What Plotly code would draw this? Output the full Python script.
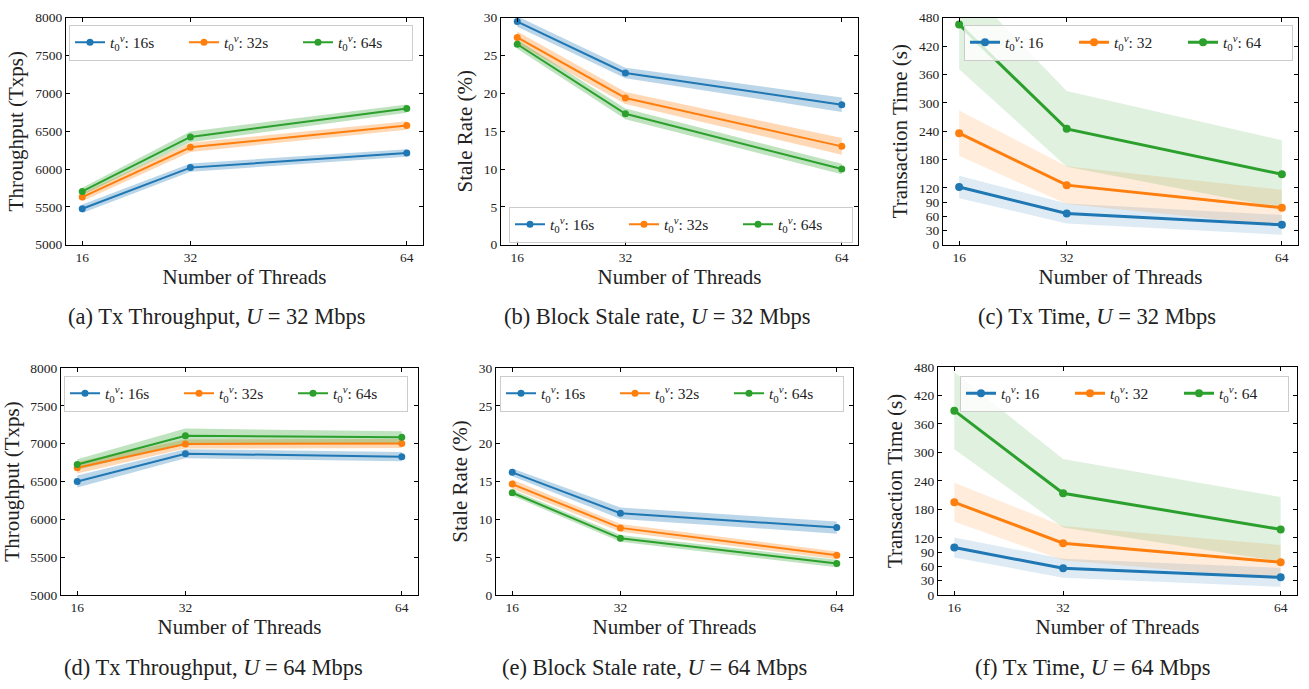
import plotly.graph_objects as go

W, H = 1309, 689

threads = [16, 32, 64]
series_names = ["16", "32", "64"]
colors = ["#1f77b4", "#ff7f0e", "#2ca02c"]
fill_rgb = ["31,119,180", "255,127,14", "44,160,44"]

# (a) Throughput, U = 32 Mbps
thr32_mean = [[5475, 6019, 6213], [5630, 6287, 6576], [5704, 6425, 6800]]
thr32_err = [[55, 55, 50], [55, 60, 55], [50, 70, 55]]
# (b) Stale rate, U = 32 Mbps
stale32_mean = [[29.5, 22.7, 18.5], [27.4, 19.4, 13.0], [26.5, 17.3, 10.0]]
stale32_err = [[0.7, 0.7, 0.95], [0.8, 0.8, 1.1], [0.6, 0.7, 0.7]]
# (c) Transaction time, U = 32 Mbps
time32_mean = [[122, 66, 42], [236, 126, 78], [466, 245, 149]]
time32_err = [[24, 21, 21], [48, 40, 38], [95, 80, 72]]
# (d) Throughput, U = 64 Mbps
thr64_mean = [[6500, 6867, 6828], [6681, 6995, 7001], [6724, 7104, 7083]]
thr64_err = [[80, 60, 60], [75, 60, 60], [70, 95, 80]]
# (e) Stale rate, U = 64 Mbps
stale64_mean = [[16.2, 10.8, 8.9], [14.65, 8.86, 5.23], [13.5, 7.48, 4.15]]
stale64_err = [[0.5, 0.75, 0.8], [0.6, 0.5, 0.5], [0.4, 0.45, 0.5]]
# (f) Transaction time, U = 64 Mbps
time64_mean = [[100, 56, 37], [195, 109, 69], [388, 214, 138]]
time64_err = [[21, 20, 20], [41, 36, 36], [81, 72, 68]]

time_ticks = [0, 30, 60, 90, 120, 180, 240, 300, 360, 420, 480]

captions = [
    "(a) Tx Throughput, <i>U</i> = 32 Mbps",
    "(b) Block Stale rate, <i>U</i> = 32 Mbps",
    "(c) Tx Time, <i>U</i> = 32 Mbps",
    "(d) Tx Throughput, <i>U</i> = 64 Mbps",
    "(e) Block Stale rate, <i>U</i> = 64 Mbps",
    "(f) Tx Time, <i>U</i> = 64 Mbps",
]

FONT = "Liberation Serif, Times New Roman, serif"

# panel pixel boxes: (left, right, top, bottom)
panels = [
    dict(box=(66, 423, 11, 243), mean=thr32_mean, err=thr32_err, yr=[5000, 8000], dtick=500,
         ytitle="Throughput (Txps)", suffix="s", alpha=0.3, lw=2, ms=7,
         leg=(69, 414, 18, 46), ew=69, cap=(216, 316)),
    dict(box=(501, 858, 11, 243), mean=stale32_mean, err=stale32_err, yr=[0, 30], dtick=5,
         ytitle="Stale Rate (%)", suffix="s", alpha=0.3, lw=2, ms=7,
         leg=(509, 854, 204, 234), ew=69, cap=(657, 316)),
    dict(box=(943, 1298, 11, 243), mean=time32_mean, err=time32_err, yr=[0, 480], tickvals=time_ticks,
         ytitle="Transaction Time (s)", suffix="", alpha=0.15, lw=3, ms=8,
         leg=(964, 1291, 18, 46), ew=64, cap=(1097, 316)),
    dict(box=(61, 418, 369, 601), mean=thr64_mean, err=thr64_err, yr=[5000, 8000], dtick=500,
         ytitle="Throughput (Txps)", suffix="s", alpha=0.3, lw=2, ms=7,
         leg=(64, 410, 377, 404), ew=69, cap=(213, 675)),
    dict(box=(496, 853, 369, 601), mean=stale64_mean, err=stale64_err, yr=[0, 30], dtick=5,
         ytitle="Stale Rate (%)", suffix="s", alpha=0.3, lw=2, ms=7,
         leg=(500, 845, 377, 404), ew=69, cap=(654, 675)),
    dict(box=(938, 1297, 368, 601), mean=time64_mean, err=time64_err, yr=[0, 480], tickvals=time_ticks,
         ytitle="Transaction Time (s)", suffix="", alpha=0.15, lw=3, ms=8,
         leg=(960, 1287, 377, 404), ew=64, cap=(1092, 675)),
]

fig = go.Figure()
layout = dict(
    width=W, height=H, margin=dict(l=0, r=0, t=0, b=0),
    paper_bgcolor="white", plot_bgcolor="white",
    font=dict(family=FONT, size=13.5, color="#222"),
    annotations=[],
)

for i, p in enumerate(panels):
    k = "" if i == 0 else str(i + 1)
    xa, ya = "x" + k, "y" + k
    legname = "legend" + k
    l, r, t, b = p["box"]
    for s in range(3):
        mean = p["mean"][s]
        err = p["err"][s]
        upper = [m + e for m, e in zip(mean, err)]
        lower = [m - e for m, e in zip(mean, err)]
        fig.add_trace(go.Scatter(
            x=threads + threads[::-1], y=upper + lower[::-1],
            fill="toself", fillcolor=f"rgba({fill_rgb[s]},{p['alpha']})",
            line=dict(width=0), mode="lines", hoverinfo="skip",
            showlegend=False, xaxis=xa, yaxis=ya))
    for s in range(3):
        fig.add_trace(go.Scatter(
            x=threads, y=p["mean"][s], mode="lines+markers",
            line=dict(color=colors[s], width=p["lw"]),
            marker=dict(color=colors[s], size=p["ms"]),
            name=f"<i>t</i><sub>0</sub><sup><i>v</i></sup>: {series_names[s]}{p['suffix']}",
            legend=legname, xaxis=xa, yaxis=ya, cliponaxis=True))

    axis_common = dict(
        showline=True, linecolor="black", linewidth=1, mirror="ticks",
        ticks="inside", ticklen=4, tickcolor="black", showgrid=False, zeroline=False,
        tickfont=dict(family=FONT, size=13.5, color="#222"),
    )
    layout["xaxis" + k] = dict(
        domain=[l / W, r / W], anchor=ya, range=[13.6, 66.4],
        tickvals=threads, ticktext=[str(v) for v in threads],
        title=dict(text="Number of Threads", font=dict(family=FONT, size=21, color="#222"), standoff=3),
        **axis_common)
    ydict = dict(
        domain=[1 - b / H, 1 - t / H], anchor=xa, range=p["yr"],
        title=dict(text=p["ytitle"], font=dict(family=FONT, size=21, color="#222"), standoff=5),
        **axis_common)
    if "tickvals" in p:
        ydict["tickvals"] = p["tickvals"]
    else:
        ydict["dtick"] = p["dtick"]
        ydict["tick0"] = p["yr"][0]
    layout["yaxis" + k] = ydict

    ll, lr, lt, lb = p["leg"]
    layout[legname] = dict(
        orientation="h", x=ll / W, y=1 - lt / H, xanchor="left", yanchor="top",
        bgcolor="rgba(255,255,255,0.8)", bordercolor="#cccccc", borderwidth=1,
        font=dict(family=FONT, size=15.5, color="#222"),
        entrywidth=p["ew"], entrywidthmode="pixels",
        itemwidth=30, tracegroupgap=0,
    )

    cx, cy = p["cap"]
    layout["annotations"].append(dict(
        text=captions[i], x=cx / W, y=1 - cy / H, xref="paper", yref="paper",
        xanchor="center", yanchor="middle", showarrow=False,
        font=dict(family=FONT, size=22.5, color="#222")))

fig.update_layout(**layout)
fig.write_html("out.html", config={"displayModeBar": False},
               post_script="document.body.style.margin='0';document.body.style.overflow='hidden';")
